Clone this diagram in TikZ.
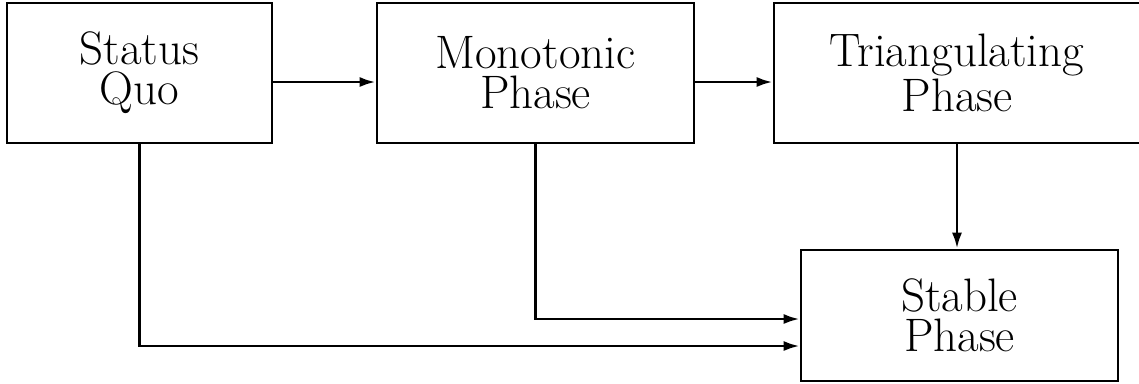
\documentclass[tikz,border=0pt]{standalone}
\usetikzlibrary{arrows.meta}
\def\px{0.368pt}
\begin{document}
\begin{tikzpicture}[x=\px,y=-\px,
  phase/.style={draw, line width=0.95pt, rectangle, align=center, inner sep=0pt,
    minimum height=140*\px, font=\fontsize{17.28}{14.7}\selectfont},
  flow/.style={line width=1.05pt, -{Latex[length=16*\px,width=10*\px]}}]
  \useasboundingbox (0,0) rectangle (1139,383);
  % the four phases
  \node[phase, minimum width=265*\px] (sq)  at (139.5,73)  {Status\\Quo};
  \node[phase, minimum width=317*\px] (mon) at (535.5,73)  {Monotonic\\Phase};
  \node[phase, minimum width=366*\px] (tri) at (957,73)    {Triangulating\\Phase};
  \node[phase, minimum width=317*\px, minimum height=131*\px] (stb) at (959.5,315.5) {Stable\\Phase};
  % heights of the horizontal runs
  \coordinate (top)  at (0,82);
  \coordinate (midr) at (0,319);
  \coordinate (lowr) at (0,346);
  % connectors
  \draw[flow] (sq.east |- top) -- (mon.west |- top);
  \draw[flow] (mon.east |- top) -- (tri.west |- top);
  \draw[flow] (tri.south) -- (tri.south |- stb.north);
  \draw[flow] (mon.south) |- (stb.west |- midr);
  \draw[flow] (sq.south) |- (stb.west |- lowr);
\end{tikzpicture}
\end{document}
